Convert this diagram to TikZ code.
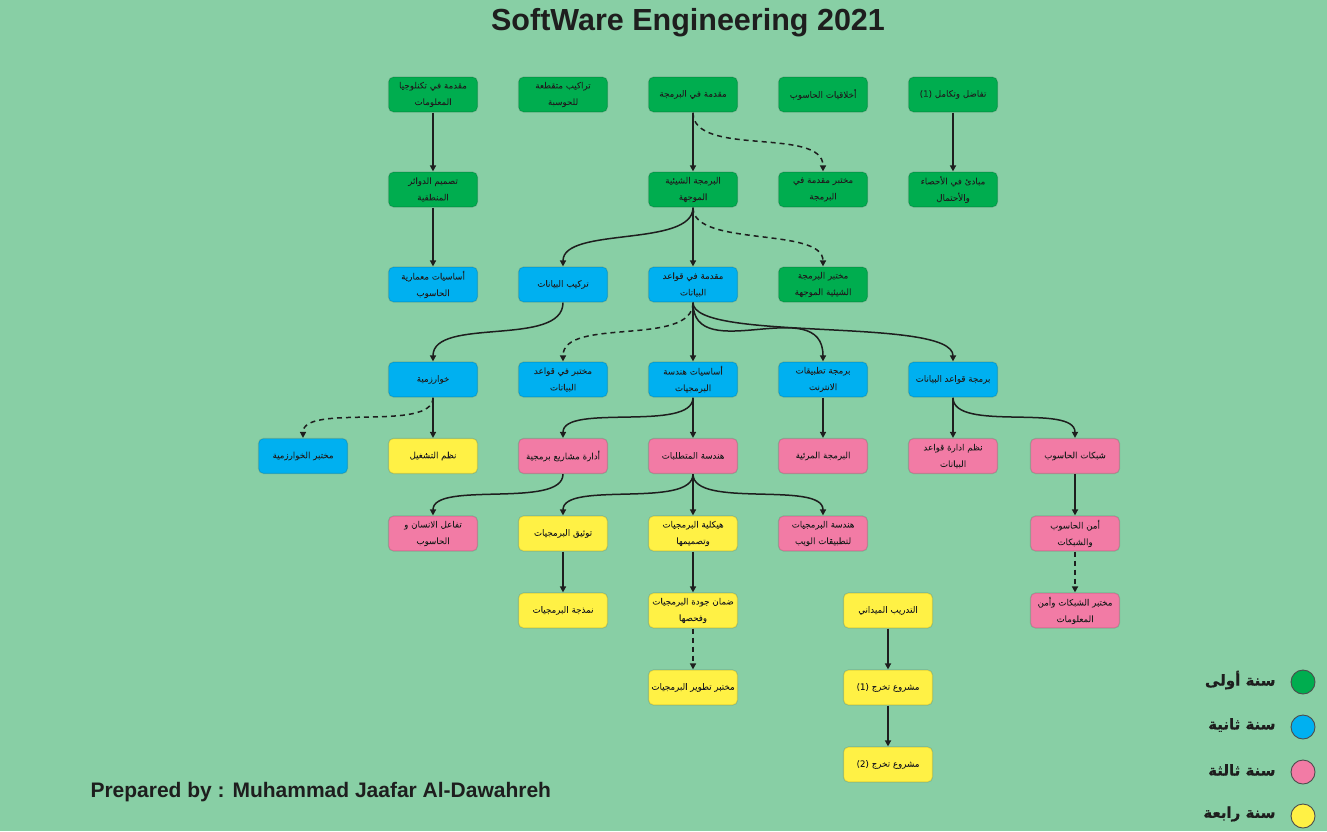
\documentclass[tikz,border=0pt]{standalone}
\usepackage{fontspec}
\setmainfont{Liberation Sans}
\newfontfamily\arfont[Script=Arabic,FakeBold=0.6]{DejaVu Sans}
\TeXXeTstate=1
\usetikzlibrary{arrows.meta}
\definecolor{bg}{HTML}{88CFA5}
\definecolor{cgreen}{HTML}{00AD4F}
\definecolor{cblue}{HTML}{00B0F0}
\definecolor{cpink}{HTML}{F27BA5}
\definecolor{cyellow}{HTML}{FFF145}
\definecolor{ink}{HTML}{1E1E1E}
\newcommand{\artx}[1]{{\arfont\beginR #1\endR}}
\tikzset{
  box/.style={rounded corners=5pt, minimum width=89pt, minimum height=35pt,
    draw=black, draw opacity=0.12, line width=1.2pt, align=center,
    font=\fontsize{8.7}{16.5}\selectfont, text=ink, inner sep=1pt},
  yg/.style={box, fill=cgreen},
  yb/.style={box, fill=cblue},
  yp/.style={box, fill=cpink},
  yy/.style={box, fill=cyellow},
  edge/.style={draw=ink, line width=1.5pt, -{Triangle[length=6pt,width=6pt]}},
  dedge/.style={edge, dash pattern=on 5pt off 4pt},
  legdot/.style={circle, minimum size=24pt, inner sep=0pt, draw=black!70, line width=0.9pt},
  legtxt/.style={anchor=east, font=\fontsize{15}{18}\selectfont, text=ink}
}
\begin{document}
\begin{tikzpicture}[x=1pt,y=-1pt]
\fill[bg] (0,0) rectangle (1327,831);
\useasboundingbox (0,0) rectangle (1327,831);
\node[font=\fontsize{30.5}{33}\selectfont\bfseries, text=ink] (title) at (688,23) {SoftWare Engineering 2021};
\node[font=\fontsize{21}{24}\selectfont\bfseries, text=ink, anchor=west] (author) at (87,792) {Prepared by : Muhammad Jaafar Al-Dawahreh};
% row 1
\node[yg] (n11) at (433,94.5) {\artx{مقدمة في تكنلوجيا}\\\artx{المعلومات}};
\node[yg] (n12) at (563,94.5) {\artx{تراكيب متقطعة}\\\artx{للحوسبة}};
\node[yg] (n13) at (693,94.5) {\artx{مقدمة في البرمجة}};
\node[yg] (n14) at (823,94.5) {\artx{أخلاقيات الحاسوب}};
\node[yg] (n15) at (953,94.5) {\artx{تفاضل وتكامل \beginL(1)\endL}};
% row 2
\node[yg] (n21) at (433,189.5) {\artx{تصميم الدوائر}\\\artx{المنطقية}};
\node[yg] (n23) at (693,189.5) {\artx{البرمجة الشيئية}\\\artx{الموجهة}};
\node[yg] (n24) at (823,189.5) {\artx{مختبر مقدمة في}\\\artx{البرمجة}};
\node[yg] (n25) at (953,189.5) {\artx{مبادئ في الأحصاء}\\\artx{والأحتمال}};
% row 3
\node[yb] (n31) at (433,284.5) {\artx{أساسيات معمارية}\\\artx{الحاسوب}};
\node[yb] (n32) at (563,284.5) {\artx{تركيب البيانات}};
\node[yb] (n33) at (693,284.5) {\artx{مقدمة في قواعد}\\\artx{البيانات}};
\node[yg] (n34) at (823,284.5) {\artx{مختبر البرمجة}\\\artx{الشيئية الموجهة}};
% row 4
\node[yb] (n41) at (433,379.5) {\artx{خوارزمية}};
\node[yb] (n42) at (563,379.5) {\artx{مختبر في قواعد}\\\artx{البيانات}};
\node[yb] (n43) at (693,379.5) {\artx{أساسيات هندسة}\\\artx{البرمجيات}};
\node[yb] (n44) at (823,379.5) {\artx{برمجة تطبيقات}\\\artx{الانترنت}};
\node[yb] (n45) at (953,379.5) {\artx{برمجة قواعد البيانات}};
% row 5
\node[yb] (n51) at (303,456) {\artx{مختبر الخوارزمية}};
\node[yy] (n52) at (433,456) {\artx{نظم التشغيل}};
\node[yp] (n53) at (563,456) {\artx{أدارة مشاريع برمجية}};
\node[yp] (n54) at (693,456) {\artx{هندسة المتطلبات}};
\node[yp] (n55) at (823,456) {\artx{البرمجة المرئية}};
\node[yp] (n56) at (953,456) {\artx{نظم ادارة قواعد}\\\artx{البيانات}};
\node[yp] (n57) at (1075,456) {\artx{شبكات الحاسوب}};
% row 6
\node[yp] (n61) at (433,533.5) {\artx{تفاعل الانسان و}\\\artx{الحاسوب}};
\node[yy] (n62) at (563,533.5) {\artx{توثيق البرمجيات}};
\node[yy] (n63) at (693,533.5) {\artx{هيكلية البرمجيات}\\\artx{وتصميمها}};
\node[yp] (n64) at (823,533.5) {\artx{هندسة البرمجيات}\\\artx{لتطبيقات الويب}};
\node[yp] (n65) at (1075,533.5) {\artx{أمن الحاسوب}\\\artx{والشبكات}};
% row 7
\node[yy] (n71) at (563,610.5) {\artx{نمذجة البرمجيات}};
\node[yy] (n72) at (693,610.5) {\artx{ضمان جودة البرمجيات}\\\artx{وفحصها}};
\node[yy] (n73) at (888,610.5) {\artx{التدريب الميداني}};
\node[yp] (n74) at (1075,610.5) {\artx{مختبر الشبكات وأمن}\\\artx{المعلومات}};
% row 8, 9
\node[yy] (n81) at (693,687.5) {\artx{مختبر تطوير البرمجيات}};
\node[yy] (n82) at (888,687.5) {\artx{مشروع تخرج \beginL(1)\endL}};
\node[yy] (n91) at (888,764.5) {\artx{مشروع تخرج \beginL(2)\endL}};
% edges
\draw[edge] (n11) -- (n21);
\draw[edge] (n21) -- (n31);
\draw[edge] (n13) -- (n23);
\draw[dedge] (n13.south) .. controls +(0,45) and +(0,-45) .. (n24.north);
\draw[edge] (n15) -- (n25);
\draw[edge] (n23) -- (n33);
\draw[edge] (n23.south) .. controls +(0,40) and +(0,-40) .. (n32.north);
\draw[dedge] (n23.south) .. controls +(0,40) and +(0,-40) .. (n34.north);
\draw[edge] (n32.south) .. controls +(0,45) and +(0,-45) .. (n41.north);
\draw[dedge] (n33.south) .. controls +(0,45) and +(0,-45) .. (n42.north);
\draw[edge] (n33) -- (n43);
\draw[edge] (n33.south) .. controls +(0,65) and +(0,-70) .. (n44.north);
\draw[edge] (n33.south) .. controls +(0,40) and +(0,-45) .. (n45.north);
\draw[dedge] (n41.south) .. controls +(0,35) and +(0,-35) .. (n51.north);
\draw[edge] (n41) -- (n52);
\draw[edge] (n43.south) .. controls +(0,35) and +(0,-35) .. (n53.north);
\draw[edge] (n43) -- (n54);
\draw[edge] (n44) -- (n55);
\draw[edge] (n45) -- (n56);
\draw[edge] (n45.south) .. controls +(0,35) and +(0,-35) .. (n57.north);
\draw[edge] (n53.south) .. controls +(0,35) and +(0,-35) .. (n61.north);
\draw[edge] (n54.south) .. controls +(0,35) and +(0,-35) .. (n62.north);
\draw[edge] (n54) -- (n63);
\draw[edge] (n54.south) .. controls +(0,35) and +(0,-35) .. (n64.north);
\draw[edge] (n57) -- (n65);
\draw[edge] (n62) -- (n71);
\draw[edge] (n63) -- (n72);
\draw[dedge] (n65) -- (n74);
\draw[dedge] (n72) -- (n81);
\draw[edge] (n73) -- (n82);
\draw[edge] (n82) -- (n91);
% legend
\node[legdot, fill=cgreen] (l1) at (1303,682) {};
\node[legdot, fill=cblue] (l2) at (1303,727) {};
\node[legdot, fill=cpink] (l3) at (1303,772) {};
\node[legdot, fill=cyellow] (l4) at (1303,816) {};
\node[legtxt] (t1) at (1279,680) {\artx{\bfseries سنة أولى}};
\node[legtxt] (t2) at (1279,725) {\artx{\bfseries سنة ثانية}};
\node[legtxt] (t3) at (1279,770) {\artx{\bfseries سنة ثالثة}};
\node[legtxt] (t4) at (1279,814) {\artx{\bfseries سنة رابعة}};
\end{tikzpicture}
\end{document}
